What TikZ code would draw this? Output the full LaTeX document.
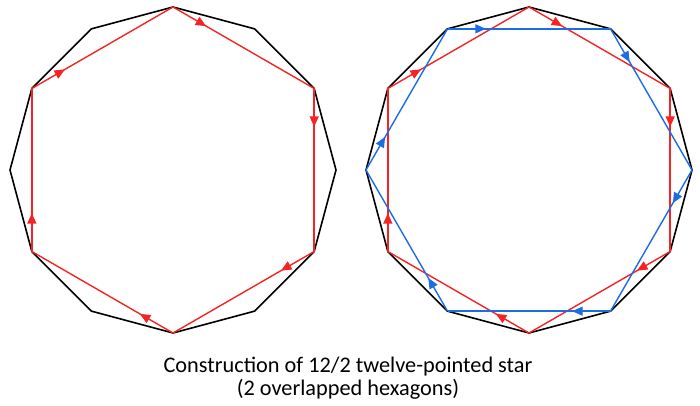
\documentclass[tikz,border=0pt]{standalone}
\usepackage{fontspec}
\setmainfont{Carlito}
\usetikzlibrary{arrows.meta,decorations.markings}

\definecolor{hexred}{RGB}{245,35,35}
\definecolor{hexblue}{RGB}{28,108,228}

\tikzset{
	rim/.style={draw=black,line width=1.6pt,line join=miter},
	flow/.style={line width=1.4pt,postaction={decorate},
		decoration={markings,mark=at position 0.235 with {\arrow{Triangle[length=10.5pt,width=9pt]}}}},
	caption/.style={align=center,font=\fontsize{22.3}{22.3}\selectfont,anchor=base},
}

\begin{document}
\begin{tikzpicture}[x=1pt,y=1pt]
	\useasboundingbox (0,0) rectangle (700,405);
	\foreach \c/\x in {L/173,R/529}
		\foreach \i in {0,...,11}
			\coordinate (\c\i) at ([shift={(\i*30:163)}]\x,235);

	\draw[rim] (L0) \foreach \i in {1,...,11}{-- (L\i)} -- cycle;
	\draw[rim] (R0) \foreach \i in {1,...,11}{-- (R\i)} -- cycle;

	\foreach \a/\b in {3/1,1/11,11/9,9/7,7/5,5/3}
	{
		\draw[flow,hexred] (L\a) -- (L\b);
		\draw[flow,hexred] (R\a) -- (R\b);
	}
	\foreach \a/\b in {4/2,2/0,0/10,10/8,8/6,6/4}
		\draw[flow,hexblue] (R\a) -- (R\b);

	\node[caption] (title) at (348,10) {Construction of 12/2 twelve-pointed star\\(2 overlapped hexagons)};
\end{tikzpicture}
\end{document}
